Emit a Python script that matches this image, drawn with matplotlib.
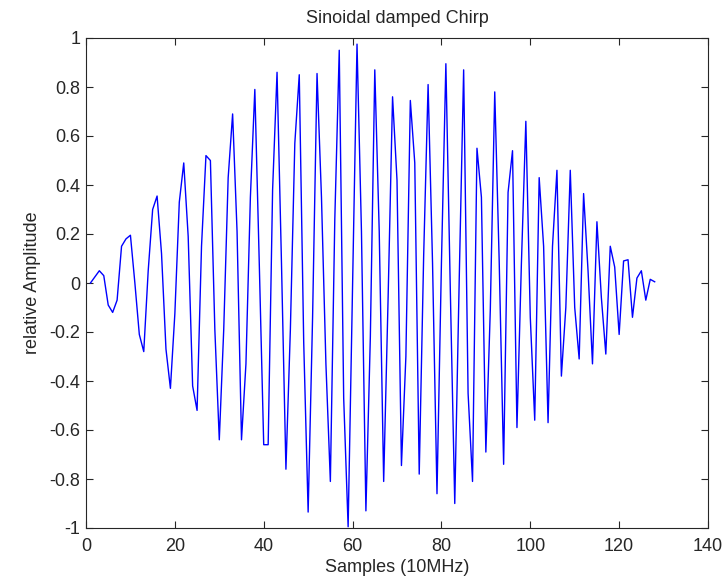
import matplotlib
matplotlib.use("Agg")
import matplotlib.pyplot as plt

plt.rcParams['font.family'] = ['Liberation Sans', 'DejaVu Sans']

# sample index (MATLAB style, 1..128) and amplitude
samples = list(range(1, 129))
amplitude = [
    0.00, 0.025, 0.05, 0.03, -0.09, -0.12, -0.07, 0.15, 0.18, 0.195,
    0.00, -0.21, -0.28, 0.05, 0.30, 0.355, 0.12, -0.27, -0.43, -0.125,
    0.33, 0.49, 0.19, -0.42, -0.52, 0.15, 0.52, 0.50, -0.19, -0.64,
    -0.19, 0.43, 0.69, 0.21, -0.64, -0.33, 0.35, 0.79, 0.08, -0.66,
    -0.66, 0.38, 0.86, 0.08, -0.76, -0.19, 0.57, 0.85, -0.24, -0.935,
    -0.14, 0.855, 0.35, -0.33, -0.81, 0.26, 0.95, -0.47, -0.995, 0.00,
    0.975, 0.21, -0.93, -0.22, 0.87, 0.21, -0.81, -0.06, 0.76, 0.42,
    -0.745, -0.30, 0.745, 0.49, -0.78, 0.11, 0.81, 0.08, -0.86, 0.08,
    0.895, -0.03, -0.90, 0.01, 0.87, -0.45, -0.81, 0.55, 0.35, -0.69,
    -0.11, 0.78, 0.09, -0.74, 0.37, 0.54, -0.59, 0.08, 0.66, -0.14,
    -0.56, 0.43, 0.15, -0.57, 0.15, 0.46, -0.38, -0.10, 0.46, -0.10,
    -0.31, 0.365, 0.05, -0.33, 0.25, -0.06, -0.29, 0.15, 0.065, -0.21,
    0.09, 0.095, -0.14, 0.02, 0.05, -0.07, 0.015, 0.005,
]

xticks = [0, 20, 40, 60, 80, 100, 120, 140]
yticks = [-1, -0.8, -0.6, -0.4, -0.2, 0, 0.2, 0.4, 0.6, 0.8, 1]
ytick_labels = ['-1', '-0.8', '-0.6', '-0.4', '-0.2', '0',
                '0.2', '0.4', '0.6', '0.8', '1']

fig = plt.figure(figsize=(7.23, 5.8), dpi=100)
ax = fig.add_axes([86 / 723, 52 / 580, 622 / 723, 490 / 580])
ax.plot(samples, amplitude, color=(0, 0, 1), linewidth=1)

ax.set_xlim(0, 140)
ax.set_ylim(-1, 1)
ax.set_xticks(xticks)
ax.set_yticks(yticks)
ax.set_yticklabels(ytick_labels)
ax.tick_params(direction='in', top=True, right=True, labelsize=13,
               length=5, width=0.8, colors='#262626', labelcolor='#262626')
ax.tick_params(axis='x', pad=7)
ax.tick_params(axis='y', pad=4)
for s in ax.spines.values():
    s.set_linewidth(0.8)
    s.set_color('#262626')

ax.set_title('Sinoidal damped Chirp', fontsize=13, pad=11, color='#262626')
ax.set_xlabel('Samples (10MHz)', fontsize=13, labelpad=3, color='#262626')
ax.set_ylabel('relative Amplitude', fontsize=13, labelpad=6, color='#262626')

fig.savefig("out.png", dpi=100)
